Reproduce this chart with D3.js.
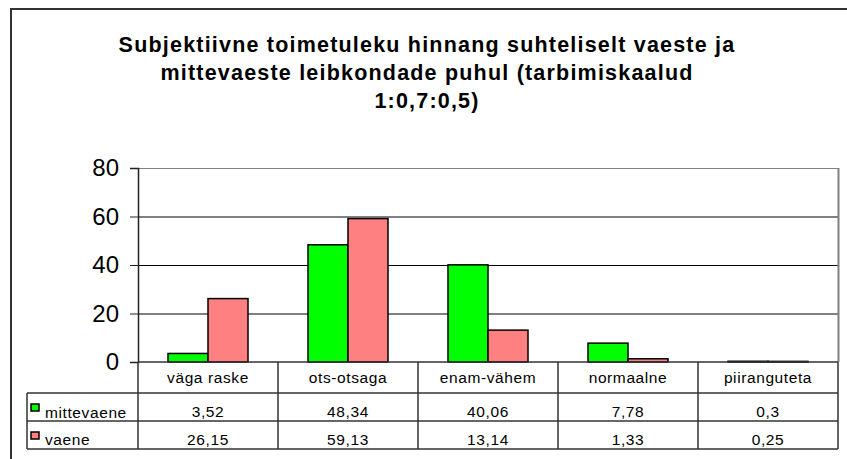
<!DOCTYPE html>
<html lang="en">
<head>
<meta charset="utf-8">
<style>
  body { margin: 0; background: #fff; }
  svg { display: block; font-family: "Liberation Sans", Arial, sans-serif; }
</style>
</head>
<body>
<script src="https://d3js.org/d3.v7.min.js"></script>
<script>
const titleLines = ["Subjektiivne toimetuleku hinnang suhteliselt vaeste ja",
                    "mittevaeste leibkondade puhul (tarbimiskaalud",
                    "1:0,7:0,5)"];
const categories = ["väga raske", "ots-otsaga", "enam-vähem", "normaalne", "piiranguteta"];
const seriesNames = ["mittevaene", "vaene"];
const mittevaene = [3.52, 48.34, 40.06, 7.78, 0.3];
const vaene = [26.15, 59.13, 13.14, 1.33, 0.25];
const valueLabels = [["3,52", "48,34", "40,06", "7,78", "0,3"],
                     ["26,15", "59,13", "13,14", "1,33", "0,25"]];
const yTicks = [0, 20, 40, 60, 80];
const colors = ["#00ff00", "#ff8080"];

const W = 847, H = 459;
const plotL = 138, plotR = 838, plotT = 168, plotB = 362;

const svg = d3.select("body").append("svg")
    .attr("width", W).attr("height", H);

// outer chart border (cut off on right and bottom)
svg.append("path")
    .attr("d", "M11," + H + "V9H" + W)
    .attr("fill", "none").attr("stroke", "#333").attr("stroke-width", 2);

// title
svg.append("text")
    .attr("text-anchor", "middle")
    .attr("font-weight", "bold").attr("font-size", 21.5)
    .attr("letter-spacing", 1.2)
    .selectAll("tspan").data(titleLines).enter().append("tspan")
    .attr("x", 427).attr("y", (d, i) => 52 + i * 28)
    .text(d => d);

const x = d3.scaleBand().domain(categories).range([plotL, plotR]);
const x1 = d3.scaleBand().domain(seriesNames)
    .range([0, x.bandwidth()]).paddingOuter(0.75).paddingInner(0);
const y = d3.scaleLinear().domain([0, 80]).range([plotB, plotT]);

// gridlines
svg.append("g").selectAll("line").data(yTicks.slice(1)).enter().append("line")
    .attr("x1", plotL).attr("x2", plotR)
    .attr("y1", d => y(d) + 0.5).attr("y2", d => y(d) + 0.5)
    .attr("stroke", d => d === 80 ? "#808080" : "#000").attr("stroke-width", 1);
// plot area right border
svg.append("line").attr("x1", plotR + 0.5).attr("x2", plotR + 0.5)
    .attr("y1", plotT).attr("y2", plotB)
    .attr("stroke", "#808080").attr("stroke-width", 2);

// bars
const series = [mittevaene, vaene];
const groups = svg.append("g").selectAll("g").data(categories).enter().append("g")
    .attr("transform", d => "translate(" + x(d) + ",0)");
groups.selectAll("rect")
    .data((c, ci) => seriesNames.map((s, si) => ({ s: s, v: series[si][ci], si: si })))
    .enter().append("rect")
    .attr("x", d => x1(d.s))
    .attr("width", x1.bandwidth())
    .attr("y", d => y(d.v))
    .attr("height", d => plotB - y(d.v))
    .attr("fill", d => colors[d.si])
    .attr("stroke", "#000").attr("stroke-width", 1.5);

// y axis
const yAxis = d3.axisLeft(y).tickValues(yTicks).tickSize(8).tickPadding(11);
const ya = svg.append("g").attr("transform", "translate(" + plotL + ",0)").call(yAxis);
ya.select(".domain").attr("stroke", "#222").attr("stroke-width", 1.5);
ya.selectAll(".tick line").attr("stroke", "#222");
ya.selectAll(".tick text").attr("font-size", 24).attr("fill", "#000")
    .attr("font-family", "Liberation Sans, Arial, sans-serif");

// data table
const rowY = [plotB, 393, 421, 449];
const tbl = svg.append("g").attr("stroke", "#333").attr("stroke-width", 1.5);
tbl.selectAll("line.h").data(rowY).enter().append("line")
    .attr("x1", (d, i) => i === 0 ? plotL : 27).attr("x2", plotR)
    .attr("y1", d => d).attr("y2", d => d);
tbl.selectAll("line.v").data(categories.concat(["end"])).enter().append("line")
    .attr("x1", (d, i) => plotL + i * x.bandwidth()).attr("x2", (d, i) => plotL + i * x.bandwidth())
    .attr("y1", plotB).attr("y2", rowY[3]);
tbl.append("line").attr("x1", 27).attr("x2", 27).attr("y1", rowY[1]).attr("y2", rowY[3]);

const cellFont = 15.5, cellSpacing = 0.6;
svg.append("g").selectAll("text").data(categories).enter().append("text")
    .attr("x", d => x(d) + x.bandwidth() / 2).attr("y", 383)
    .attr("text-anchor", "middle").attr("font-size", cellFont)
    .attr("letter-spacing", cellSpacing).text(d => d);

valueLabels.forEach((row, ri) => {
    svg.append("g").selectAll("text").data(row).enter().append("text")
        .attr("x", (d, i) => x(categories[i]) + x.bandwidth() / 2)
        .attr("y", 417 + ri * 28)
        .attr("text-anchor", "middle").attr("font-size", cellFont)
        .attr("letter-spacing", cellSpacing).text(d => d);
    svg.append("rect").attr("x", 31).attr("y", 404 + ri * 28)
        .attr("width", 8).attr("height", 7)
        .attr("fill", colors[ri]).attr("stroke", "#000").attr("stroke-width", 1.5);
    svg.append("text").attr("x", 45).attr("y", 418 + ri * 27)
        .attr("font-size", cellFont).attr("letter-spacing", cellSpacing)
        .text(seriesNames[ri]);
});
</script>
</body>
</html>
